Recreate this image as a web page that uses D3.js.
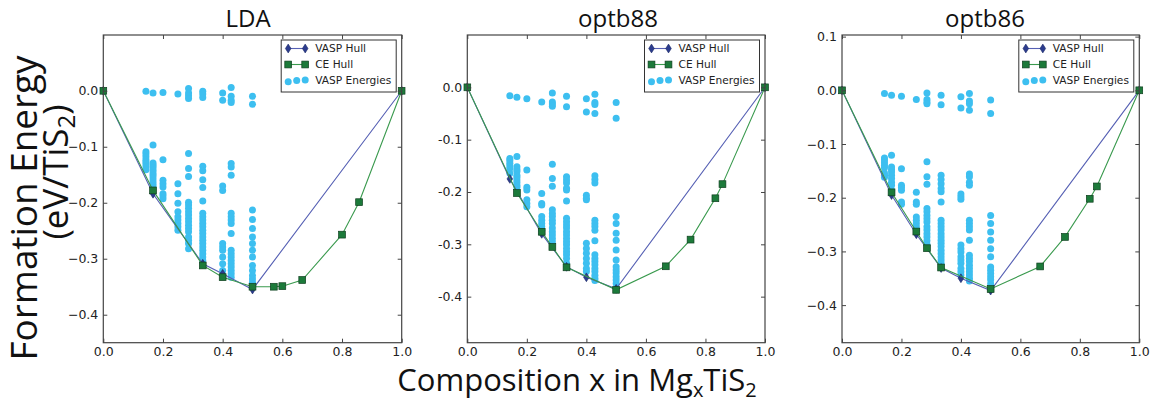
<!DOCTYPE html>
<html>
<head>
<meta charset="utf-8">
<script src="https://cdn.jsdelivr.net/npm/d3@7/dist/d3.min.js"></script>
<style>
  html, body { margin: 0; padding: 0; background: #fff; }
  svg { display: block; }
  .tick text { font-family: "DejaVu Sans", sans-serif; font-size: 12.5px; fill: #222; }
  .tick line { stroke: #444; stroke-width: 1; }
</style>
</head>
<body>
<svg id="chart" width="1155" height="406"></svg>
<script>
// Compositions (x in MgxTiS2) at which configurations were computed
const energyX = [1/7, 1/6, 0.2, 0.25, 2/7, 1/3, 0.4, 3/7, 0.5];

// ---------- LDA ----------
const ldaVaspHullX = [0, 1/6, 1/3, 0.4, 0.5, 1];
const ldaVaspHullE = [0, -0.184, -0.309, -0.327, -0.355, 0];
const ldaCeHullX = [0, 1/6, 1/3, 0.4, 0.5, 4/7, 0.6, 2/3, 0.8, 6/7, 1];
const ldaCeHullE = [0, -0.178, -0.312, -0.333, -0.350, -0.350, -0.349, -0.338, -0.257, -0.199, 0];
const ldaEnergies = [
  [-0.001, -0.109, -0.113, -0.118, -0.123, -0.127, -0.131, -0.136, -0.141],
  [-0.004, -0.097, -0.129, -0.133, -0.137, -0.142, -0.147, -0.151, -0.156, -0.161, -0.166, -0.170],
  [-0.003, -0.123, -0.160, -0.166, -0.172, -0.184, -0.188, -0.193],
  [-0.006, -0.166, -0.184, -0.201, -0.216, -0.225, -0.231, -0.237, -0.243, -0.249],
  [0.004, -0.004, -0.009, -0.014, -0.112, -0.139, -0.153, -0.199, -0.204, -0.210, -0.216, -0.222, -0.228, -0.234, -0.240, -0.246, -0.252, -0.261, -0.267, -0.273, -0.282],
  [-0.001, -0.006, -0.012, -0.135, -0.143, -0.159, -0.173, -0.197, -0.219, -0.225, -0.231, -0.237, -0.243, -0.249, -0.255, -0.261, -0.267, -0.273, -0.279, -0.285, -0.291, -0.297, -0.303],
  [-0.004, -0.017, -0.170, -0.178, -0.273, -0.279, -0.285, -0.297, -0.309, -0.321],
  [0.006, -0.010, -0.017, -0.021, -0.130, -0.136, -0.151, -0.219, -0.225, -0.231, -0.237, -0.255, -0.285, -0.291, -0.297, -0.303, -0.309, -0.315, -0.321, -0.327, -0.333],
  [-0.010, -0.024, -0.213, -0.230, -0.246, -0.261, -0.273, -0.285, -0.297, -0.312, -0.321, -0.330, -0.336, -0.342]
];

// ---------- optb88 ----------
const b88VaspHullX = [0, 1/7, 0.25, 1/3, 0.4, 0.5, 1];
const b88VaspHullE = [0, -0.175, -0.280, -0.343, -0.363, -0.385, 0];
const b88CeHullX = [0, 1/6, 0.25, 2/7, 1/3, 0.5, 2/3, 0.75, 5/6, 6/7, 1];
const b88CeHullE = [0, -0.202, -0.276, -0.305, -0.344, -0.387, -0.342, -0.291, -0.212, -0.185, 0];
const b88Energies = [
  [-0.016, -0.136, -0.140, -0.145, -0.150, -0.155, -0.164],
  [-0.019, -0.132, -0.152, -0.157, -0.161, -0.168, -0.172, -0.177, -0.182, -0.187, -0.191],
  [-0.022, -0.158, -0.191, -0.196, -0.215, -0.222, -0.228],
  [-0.028, -0.203, -0.222, -0.225, -0.247, -0.254, -0.260, -0.266, -0.273],
  [-0.011, -0.028, -0.032, -0.036, -0.147, -0.174, -0.189, -0.234, -0.241, -0.247, -0.254, -0.260, -0.269, -0.276, -0.282, -0.289, -0.295],
  [-0.017, -0.037, -0.171, -0.177, -0.183, -0.193, -0.196, -0.217, -0.250, -0.257, -0.263, -0.269, -0.276, -0.282, -0.289, -0.295, -0.301, -0.308, -0.314, -0.320, -0.327, -0.336],
  [-0.022, -0.047, -0.206, -0.212, -0.215, -0.298, -0.308, -0.317, -0.327, -0.336, -0.346, -0.352],
  [-0.013, -0.029, -0.033, -0.050, -0.169, -0.176, -0.183, -0.254, -0.260, -0.266, -0.273, -0.293, -0.320, -0.327, -0.333, -0.339, -0.346, -0.352, -0.359, -0.365, -0.369],
  [-0.029, -0.059, -0.247, -0.260, -0.279, -0.292, -0.311, -0.330, -0.343, -0.349, -0.355, -0.362, -0.368, -0.375]
];

// ---------- optb86 ----------
const b86VaspHullX = [0, 1/6, 0.25, 1/3, 0.4, 0.5, 1];
const b86VaspHullE = [0, -0.195, -0.268, -0.331, -0.350, -0.373, 0];
const b86CeHullX = [0, 1/6, 0.25, 2/7, 1/3, 0.5, 2/3, 0.75, 5/6, 6/7, 1];
const b86CeHullE = [0, -0.190, -0.263, -0.294, -0.330, -0.370, -0.328, -0.273, -0.202, -0.179, 0];
const b86Energies = [
  [-0.006, -0.126, -0.130, -0.135, -0.140, -0.144, -0.154, -0.158, -0.162],
  [-0.009, -0.121, -0.143, -0.148, -0.152, -0.158, -0.164, -0.171, -0.177, -0.186],
  [-0.011, -0.146, -0.177, -0.181, -0.186, -0.208, -0.212],
  [-0.017, -0.190, -0.208, -0.212, -0.236, -0.242, -0.248, -0.254, -0.260],
  [-0.005, -0.017, -0.022, -0.025, -0.133, -0.161, -0.175, -0.220, -0.226, -0.233, -0.239, -0.245, -0.254, -0.260, -0.267, -0.273, -0.280, -0.287],
  [-0.009, -0.027, -0.158, -0.166, -0.174, -0.183, -0.189, -0.208, -0.242, -0.248, -0.254, -0.260, -0.267, -0.273, -0.279, -0.285, -0.291, -0.298, -0.304, -0.310, -0.316, -0.322],
  [-0.012, -0.033, -0.193, -0.198, -0.203, -0.288, -0.295, -0.301, -0.310, -0.316, -0.322, -0.332, -0.338, -0.344],
  [-0.006, -0.020, -0.025, -0.037, -0.156, -0.161, -0.171, -0.177, -0.242, -0.248, -0.254, -0.260, -0.279, -0.307, -0.313, -0.319, -0.326, -0.332, -0.338, -0.344, -0.350, -0.355],
  [-0.018, -0.043, -0.233, -0.248, -0.264, -0.279, -0.295, -0.310, -0.329, -0.335, -0.341, -0.347, -0.353, -0.360]
];

// Axis ticks and labels
const panelTitles = ["LDA", "optb88", "optb86"];
const xTicks = [0, 0.2, 0.4, 0.6, 0.8, 1.0];
const ldaYTicks = [-0.4, -0.3, -0.2, -0.1, 0.0];
const b88YTicks = [-0.4, -0.3, -0.2, -0.1, 0.0];
const b86YTicks = [-0.4, -0.3, -0.2, -0.1, 0.0, 0.1];
const ldaYLimits = [-0.45, 0.0996];
const b88YLimits = [-0.488, 0.1];
const b86YLimits = [-0.47, 0.103];
const legendLabels = ["VASP Hull", "CE Hull", "VASP Energies"];

const COLORS = {
  dots: "#3dbff0",
  vaspLine: "#5660b4",
  vaspMarker: "#2c3c8e",
  ceLine: "#3a9a4e",
  ceMarker: "#1c7a3a",
  ceEdge: "#0f3f1f",
  frame: "#444"
};

const svg = d3.select("#chart");
const minusFmt = d3.format(".1f");               // uses U+2212 for negatives
const hyphenFmt = v => d3.format(".1f")(v).replace("\u2212", "-");

const panels = [
  { title: panelTitles[0], left: 103.3, right: 401.7, yLim: ldaYLimits, yTicks: ldaYTicks, fmt: minusFmt,
    vaspX: ldaVaspHullX, vaspE: ldaVaspHullE, ceX: ldaCeHullX, ceE: ldaCeHullE, energies: ldaEnergies, titleX: 248 },
  { title: panelTitles[1], left: 467.3, right: 765, yLim: b88YLimits, yTicks: b88YTicks, fmt: hyphenFmt,
    vaspX: b88VaspHullX, vaspE: b88VaspHullE, ceX: b88CeHullX, ceE: b88CeHullE, energies: b88Energies, titleX: 618 },
  { title: panelTitles[2], left: 842, right: 1139.3, yLim: b86YLimits, yTicks: b86YTicks, fmt: minusFmt,
    vaspX: b86VaspHullX, vaspE: b86VaspHullE, ceX: b86CeHullX, ceE: b86CeHullE, energies: b86Energies, titleX: 985 }
];

const TOP = 35, BOTTOM = 342.7;

const diamond = (w, h) => `M0,${-h}L${w},0L0,${h}L${-w},0Z`;

panels.forEach(p => {
  const x = d3.scaleLinear().domain([0, 1]).range([p.left, p.right]);
  const y = d3.scaleLinear().domain(p.yLim).range([BOTTOM, TOP]);
  const g = svg.append("g");

  // clip region for data marks
  const clipId = "clip-" + p.title;
  svg.append("clipPath").attr("id", clipId)
    .append("rect").attr("x", p.left - 4).attr("y", TOP)
    .attr("width", p.right - p.left + 8).attr("height", BOTTOM - TOP);

  const data = g.append("g").attr("clip-path", `url(#${clipId})`);

  // computed configuration energies (drawn beneath the hull lines)
  const pts = [];
  p.energies.forEach((col, i) => col.forEach(e => pts.push([energyX[i], e])));
  data.selectAll("circle.energy").data(pts).join("circle")
    .attr("class", "energy")
    .attr("cx", d => x(d[0])).attr("cy", d => y(d[1]))
    .attr("r", 3.5).attr("fill", COLORS.dots);

  const line = d3.line().x(d => x(d[0])).y(d => y(d[1]));

  // VASP hull
  const vasp = p.vaspX.map((v, i) => [v, p.vaspE[i]]);
  data.append("path").datum(vasp).attr("d", line)
    .attr("fill", "none").attr("stroke", COLORS.vaspLine).attr("stroke-width", 1.1);
  data.selectAll("path.vm").data(vasp).join("path").attr("class", "vm")
    .attr("transform", d => `translate(${x(d[0])},${y(d[1])})`)
    .attr("d", diamond(2.8, 4.4)).attr("fill", COLORS.vaspMarker)
    .attr("stroke", "#1d2a66").attr("stroke-width", 0.6);

  // Cluster-expansion hull
  const ce = p.ceX.map((v, i) => [v, p.ceE[i]]);
  data.append("path").datum(ce).attr("d", line)
    .attr("fill", "none").attr("stroke", COLORS.ceLine).attr("stroke-width", 1.1);
  data.selectAll("rect.cm").data(ce).join("rect").attr("class", "cm")
    .attr("x", d => x(d[0]) - 3.4).attr("y", d => y(d[1]) - 3.4)
    .attr("width", 6.8).attr("height", 6.8)
    .attr("fill", COLORS.ceMarker).attr("stroke", COLORS.ceEdge).attr("stroke-width", 0.7);

  // axes: ticks pointing inward on all four sides
  const ax = g.append("g");
  ax.append("g").attr("transform", `translate(0,${BOTTOM})`)
    .call(d3.axisBottom(x).tickValues(xTicks).tickSize(-4).tickPadding(4).tickFormat(d3.format(".1f")))
    .call(s => s.select(".domain").remove());
  ax.append("g").attr("transform", `translate(0,${TOP})`)
    .call(d3.axisTop(x).tickValues(xTicks).tickSize(-4).tickFormat(""))
    .call(s => s.select(".domain").remove());
  ax.append("g").attr("transform", `translate(${p.left},0)`)
    .call(d3.axisLeft(y).tickValues(p.yTicks).tickSize(-4).tickPadding(5).tickFormat(p.fmt))
    .call(s => s.select(".domain").remove());
  ax.append("g").attr("transform", `translate(${p.right},0)`)
    .call(d3.axisRight(y).tickValues(p.yTicks).tickSize(-4).tickFormat(""))
    .call(s => s.select(".domain").remove());
  ax.selectAll(".tick text").attr("fill", "#222");

  // frame
  g.append("rect").attr("x", p.left).attr("y", TOP)
    .attr("width", p.right - p.left).attr("height", BOTTOM - TOP)
    .attr("fill", "none").attr("stroke", COLORS.frame).attr("stroke-width", 1.2);

  // title
  g.append("text").attr("x", p.titleX).attr("y", 27).attr("text-anchor", "middle")
    .attr("font-family", "Open Sans, sans-serif").attr("font-size", 24).attr("fill", "#111")
    .text(p.title);

  // legend (upper right)
  const lw = 115, lh = 52;
  const lx = p.right - 5.5 - lw, ly = TOP + 5;
  const lg = g.append("g").attr("transform", `translate(${lx},${ly})`);
  lg.append("rect").attr("width", lw).attr("height", lh)
    .attr("fill", "#fff").attr("stroke", "#333").attr("stroke-width", 1);
  const rows = [8.5, 24.5, 40.5];
  const hx0 = 7, hx1 = 24;
  // VASP Hull handle
  lg.append("line").attr("x1", hx0).attr("x2", hx1).attr("y1", rows[0]).attr("y2", rows[0])
    .attr("stroke", COLORS.vaspLine).attr("stroke-width", 1.1);
  [hx0, hx1].forEach(hx => lg.append("path").attr("transform", `translate(${hx},${rows[0]})`)
    .attr("d", diamond(2.8, 4.4)).attr("fill", COLORS.vaspMarker).attr("stroke", "#1d2a66").attr("stroke-width", 0.6));
  // CE Hull handle
  lg.append("line").attr("x1", hx0).attr("x2", hx1).attr("y1", rows[1]).attr("y2", rows[1])
    .attr("stroke", COLORS.ceLine).attr("stroke-width", 1.1);
  [hx0, hx1].forEach(hx => lg.append("rect").attr("x", hx - 3.4).attr("y", rows[1] - 3.4)
    .attr("width", 6.8).attr("height", 6.8).attr("fill", COLORS.ceMarker)
    .attr("stroke", COLORS.ceEdge).attr("stroke-width", 0.7));
  // VASP Energies handle
  [[7, 1.2], [15.5, 0], [24, -0.6]].forEach(([hx, dy]) => lg.append("circle")
    .attr("cx", hx).attr("cy", rows[2] + dy).attr("r", 3.5).attr("fill", COLORS.dots));
  legendLabels.forEach((t, i) => lg.append("text").attr("x", 34).attr("y", rows[i] + 3.8)
    .attr("font-family", "DejaVu Sans, sans-serif").attr("font-size", 10.6).attr("fill", "#222").text(t));
});

// shared axis labels
svg.append("text")
  .attr("transform", "translate(37,208) rotate(-90)")
  .attr("text-anchor", "middle")
  .attr("font-family", "Open Sans, sans-serif").attr("font-size", 36).attr("fill", "#111")
  .attr("textLength", 305).attr("lengthAdjust", "spacingAndGlyphs")
  .text("Formation Energy");
const yl2 = svg.append("text")
  .attr("transform", "translate(68,172) rotate(-90)")
  .attr("text-anchor", "middle")
  .attr("font-family", "Open Sans, sans-serif").attr("font-size", 35).attr("fill", "#111");
yl2.append("tspan").text("(eV/TiS");
yl2.append("tspan").attr("font-size", 24).attr("dy", 7).text("2");
yl2.append("tspan").attr("dy", -7).text(")");

const xl = svg.append("text")
  .attr("x", 577).attr("y", 391).attr("text-anchor", "middle")
  .attr("font-family", "Open Sans, sans-serif").attr("font-size", 31).attr("fill", "#111");
xl.append("tspan").text("Composition x in Mg");
xl.append("tspan").attr("font-size", 20).attr("dy", 6).text("x");
xl.append("tspan").attr("dy", -6).text("TiS");
xl.append("tspan").attr("font-size", 20).attr("dy", 6).text("2");
</script>
</body>
</html>
